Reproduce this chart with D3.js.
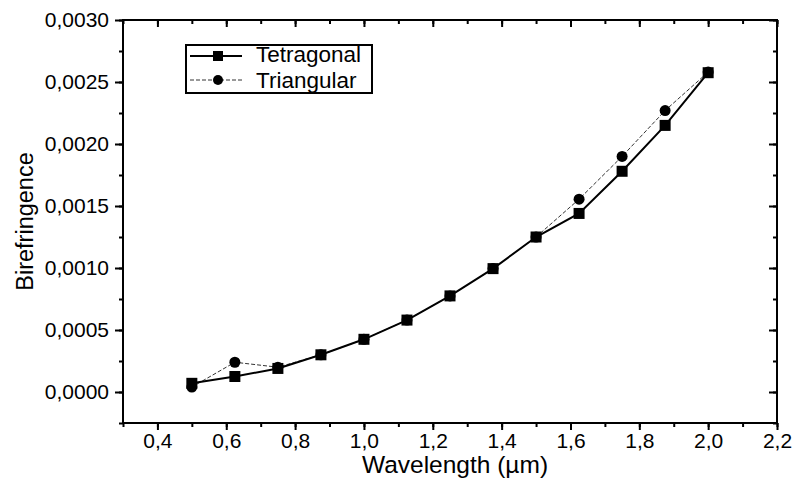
<!DOCTYPE html>
<html>
<head>
<meta charset="utf-8">
<script src="https://cdn.jsdelivr.net/npm/d3@7"></script>
<style>
  html, body { margin: 0; padding: 0; background: #fff; }
  svg { display: block; font-family: "Liberation Sans", Arial, sans-serif; }
</style>
</head>
<body>
<svg id="chart" width="796" height="488"></svg>
<script>
// Birefringence versus wavelength for two lattice geometries
const wavelengths = [0.5, 0.625, 0.75, 0.875, 1.0, 1.125, 1.25, 1.375, 1.5, 1.625, 1.75, 1.875, 2.0];
const tetragonal  = [0.00007, 0.000125, 0.00019, 0.0003, 0.000425, 0.00058, 0.000775, 0.000995, 0.00125, 0.00144, 0.00178, 0.00215, 0.002575];
const triangular  = [0.00004, 0.00024, 0.0002, 0.0003, 0.000425, 0.00058, 0.000775, 0.000995, 0.00125, 0.001555, 0.0019, 0.00227, 0.00258];
const xTickValues = [0.4, 0.6, 0.8, 1.0, 1.2, 1.4, 1.6, 1.8, 2.0, 2.2];
const yTickValues = [0, 0.0005, 0.001, 0.0015, 0.002, 0.0025, 0.003];
const seriesNames = ["Tetragonal", "Triangular"];

const svg = d3.select("#chart");
const plotL = 123, plotR = 777, plotT = 20, plotB = 423;

const x = d3.scaleLinear().domain([0.3, 2.2]).range([plotL, plotR]);
const y = d3.scaleLinear().domain([-0.00025, 0.003]).range([plotB, plotT]);

const comma = v => v.toString().replace(".", ",");
const fmtX = v => comma(v.toFixed(1));
const fmtY = v => comma(v.toFixed(4));

const xMinor = d3.range(0.3, 2.2001, 0.1).map(v => +v.toFixed(2));
const yMinor = d3.range(-0.00025, 0.00301, 0.00025).map(v => +v.toFixed(5));

// Frame
svg.append("rect")
  .attr("x", plotL).attr("y", plotT)
  .attr("width", plotR - plotL).attr("height", plotB - plotT)
  .attr("fill", "none").attr("stroke", "#000").attr("stroke-width", 2);

function styleAxis(g) {
  g.select(".domain").remove();
  g.selectAll(".tick line").attr("stroke", "#000").attr("stroke-width", 2);
  g.selectAll("text").attr("fill", "#000").attr("font-size", 21);
}

// Bottom axis: major and minor ticks outward
svg.append("g").attr("transform", `translate(0,${plotB})`)
  .call(d3.axisBottom(x).tickValues(xMinor).tickSize(4).tickFormat(""))
  .call(styleAxis);
svg.append("g").attr("transform", `translate(0,${plotB})`)
  .call(d3.axisBottom(x).tickValues(xTickValues).tickSize(7).tickPadding(3).tickFormat(fmtX))
  .call(styleAxis);

// Left axis
svg.append("g").attr("transform", `translate(${plotL},0)`)
  .call(d3.axisLeft(y).tickValues(yMinor).tickSize(4).tickFormat(""))
  .call(styleAxis);
svg.append("g").attr("transform", `translate(${plotL},0)`)
  .call(d3.axisLeft(y).tickValues(yTickValues).tickSize(8).tickPadding(6).tickFormat(fmtY))
  .call(styleAxis);

// Top and right axes: ticks pointing inward, no labels
svg.append("g").attr("transform", `translate(0,${plotT})`)
  .call(d3.axisTop(x).tickValues(xMinor).tickSize(-4).tickFormat(""))
  .call(styleAxis);
svg.append("g").attr("transform", `translate(0,${plotT})`)
  .call(d3.axisTop(x).tickValues(xTickValues).tickSize(-7).tickFormat(""))
  .call(styleAxis);
svg.append("g").attr("transform", `translate(${plotR},0)`)
  .call(d3.axisRight(y).tickValues(yMinor).tickSize(-4).tickFormat(""))
  .call(styleAxis);
svg.append("g").attr("transform", `translate(${plotR},0)`)
  .call(d3.axisRight(y).tickValues(yTickValues).tickSize(-8).tickFormat(""))
  .call(styleAxis);

// Axis titles
svg.append("text")
  .attr("x", 455).attr("y", 473)
  .attr("text-anchor", "middle").attr("font-size", 24.5)
  .text("Wavelength (µm)");
svg.append("text")
  .attr("transform", `translate(33,${(plotT + plotB) / 2}) rotate(-90)`)
  .attr("text-anchor", "middle").attr("font-size", 23.5)
  .text("Birefringence");

// Series
const line = d3.line().x(d => x(d[0])).y(d => y(d[1]));
const triData = wavelengths.map((w, i) => [w, triangular[i]]);
const tetData = wavelengths.map((w, i) => [w, tetragonal[i]]);

svg.append("path").datum(triData).attr("d", line)
  .attr("fill", "none").attr("stroke", "#333").attr("stroke-width", 1)
  .attr("stroke-dasharray", "4,2");
svg.append("path").datum(tetData).attr("d", line)
  .attr("fill", "none").attr("stroke", "#000").attr("stroke-width", 2);

svg.append("g").selectAll("circle").data(triData).join("circle")
  .attr("cx", d => x(d[0])).attr("cy", d => y(d[1])).attr("r", 5.5).attr("fill", "#000");
svg.append("g").selectAll("rect").data(tetData).join("rect")
  .attr("x", d => x(d[0]) - 5.5).attr("y", d => y(d[1]) - 5.5)
  .attr("width", 11).attr("height", 11).attr("fill", "#000");

// Legend
const lg = svg.append("g");
lg.append("rect").attr("x", 186).attr("y", 45).attr("width", 186).attr("height", 48)
  .attr("fill", "#fff").attr("stroke", "#000").attr("stroke-width", 2);
lg.append("line").attr("x1", 190).attr("x2", 242).attr("y1", 56).attr("y2", 56)
  .attr("stroke", "#000").attr("stroke-width", 2);
lg.append("rect").attr("x", 213).attr("y", 51).attr("width", 10).attr("height", 10).attr("fill", "#000");
lg.append("line").attr("x1", 190).attr("x2", 242).attr("y1", 80).attr("y2", 80)
  .attr("stroke", "#333").attr("stroke-width", 1).attr("stroke-dasharray", "4,2");
lg.append("circle").attr("cx", 218).attr("cy", 80).attr("r", 5).attr("fill", "#000");
lg.selectAll("text.lbl").data(seriesNames).join("text")
  .attr("class", "lbl")
  .attr("x", 256).attr("y", (d, i) => 62 + i * 25.5)
  .attr("font-size", 22.5)
  .text(d => d);
</script>
</body>
</html>
